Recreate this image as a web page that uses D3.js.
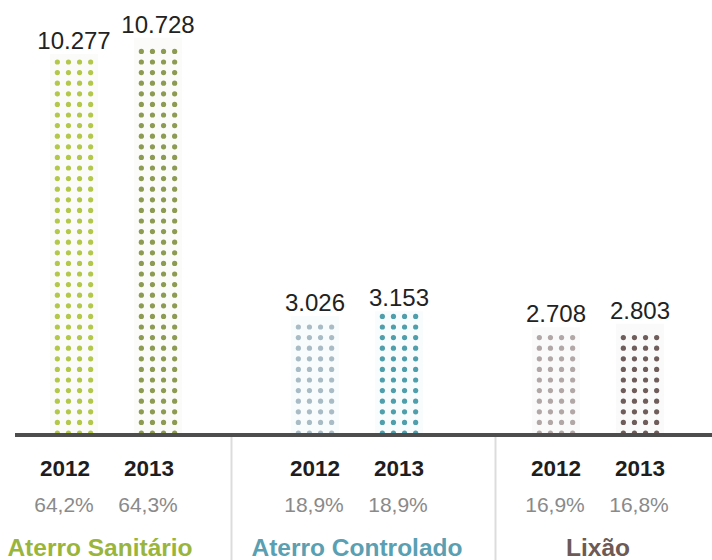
<!DOCTYPE html>
<html>
<head>
<meta charset="utf-8">
<script src="https://cdn.jsdelivr.net/npm/d3@7"></script>
<style>
html,body{margin:0;padding:0;background:#fff;}
svg{display:block;font-family:"Liberation Sans",Arial,Helvetica,sans-serif;}
</style>
</head>
<body>
<svg id="chart" width="712" height="560"></svg>
<script>
// ---- data ----
const categories = ["Aterro Sanitário", "Aterro Controlado", "Lixão"];
const years = ["2012", "2013"];
const values2012 = [10.277, 3.026, 2.708];
const values2013 = [10.728, 3.153, 2.803];
const valueLabels2012 = ["10.277", "3.026", "2.708"];
const valueLabels2013 = ["10.728", "3.153", "2.803"];
const pct2012 = ["64,2%", "18,9%", "16,9%"];
const pct2013 = ["64,3%", "18,9%", "16,8%"];

// ---- styles ----
const dotColors = [["#b3c84a", "#8d9a52"], ["#a9bcc6", "#4f9eab"], ["#b2a7a7", "#6f5d5b"]];
const catColors = ["#9ab53c", "#5a9fb2", "#6d5a56"];
const labelShift = [-9, 0, 0];
const catShift = [-16, 0, 0];

const svg = d3.select("#chart");
const W = 712, H = 560;
const base = 433;

const x = d3.scaleBand().domain(categories).range([-4.5, 718.5]);
const xi = d3.scaleBand().domain(years).range([-84, 84]);
const y = d3.scaleLinear().domain([0, 11]).range([base, base - 11 * 36.1]);

const rows = [];
categories.forEach((c, ci) => {
  years.forEach((yr, yi) => {
    rows.push({
      cat: c, ci, yr, yi,
      v: yi === 0 ? values2012[ci] : values2013[ci],
      lab: yi === 0 ? valueLabels2012[ci] : valueLabels2013[ci],
      pct: yi === 0 ? pct2012[ci] : pct2013[ci],
      cx: x(c) + x.bandwidth() / 2 + xi(yr) + xi.bandwidth() / 2
    });
  });
});

const rowStep = 10.6, colStep = 11.1, r = 2.6;

// faint background columns
svg.append("g").selectAll("rect").data(rows).join("rect")
  .attr("x", d => d.cx - 24)
  .attr("y", d => y(d.v) - 8)
  .attr("width", 48)
  .attr("height", d => base - y(d.v) + 8)
  .attr("fill", d => dotColors[d.ci][1])
  .attr("opacity", 0.03);

// dots
const dotG = svg.append("g");
rows.forEach(d => {
  const top = y(d.v);
  const pts = [];
  for (let i = 0; base - i * rowStep >= top - 3; i++) {
    for (let k = 0; k < 4; k++) {
      pts.push({ px: d.cx + (k - 1.5) * colStep, py: base - i * rowStep });
    }
  }
  dotG.selectAll(null).data(pts).join("circle")
    .attr("cx", p => p.px).attr("cy", p => p.py).attr("r", r)
    .attr("fill", dotColors[d.ci][d.yi]);
});

// value labels
svg.append("g").selectAll("text").data(rows).join("text")
  .attr("x", d => d.cx)
  .attr("y", d => y(d.v) - 13)
  .attr("text-anchor", "middle")
  .attr("font-size", 24)
  .attr("fill", "#222")
  .text(d => d.lab);

// separators
const seps = [x(categories[1]) - 5, x(categories[2]) + 18];
svg.append("g").selectAll("line").data(seps).join("line")
  .attr("x1", d => d).attr("x2", d => d)
  .attr("y1", base + 4).attr("y2", H)
  .attr("stroke", "#dcdcdc").attr("stroke-width", 2);

// baseline
svg.append("line")
  .attr("x1", 15).attr("x2", W)
  .attr("y1", base + 2).attr("y2", base + 2)
  .attr("stroke", "#4d4d4d").attr("stroke-width", 4);

// year labels
svg.append("g").selectAll("text").data(rows).join("text")
  .attr("x", d => d.cx + labelShift[d.ci])
  .attr("y", 476)
  .attr("text-anchor", "middle")
  .attr("font-size", 22.5)
  .attr("font-weight", "bold")
  .attr("fill", "#1e1e1e")
  .text(d => d.yr);

// percent labels
svg.append("g").selectAll("text").data(rows).join("text")
  .attr("x", d => d.cx + labelShift[d.ci] - 1)
  .attr("y", 512)
  .attr("text-anchor", "middle")
  .attr("font-size", 21)
  .attr("fill", "#8a8a8a")
  .text(d => d.pct);

// category labels
svg.append("g").selectAll("text").data(categories).join("text")
  .attr("x", (c, i) => x(c) + x.bandwidth() / 2 + catShift[i])
  .attr("y", 556)
  .attr("text-anchor", "middle")
  .attr("font-size", 24.5)
  .attr("font-weight", "bold")
  .attr("fill", (c, i) => catColors[i])
  .text(c => c);
</script>
</body>
</html>
